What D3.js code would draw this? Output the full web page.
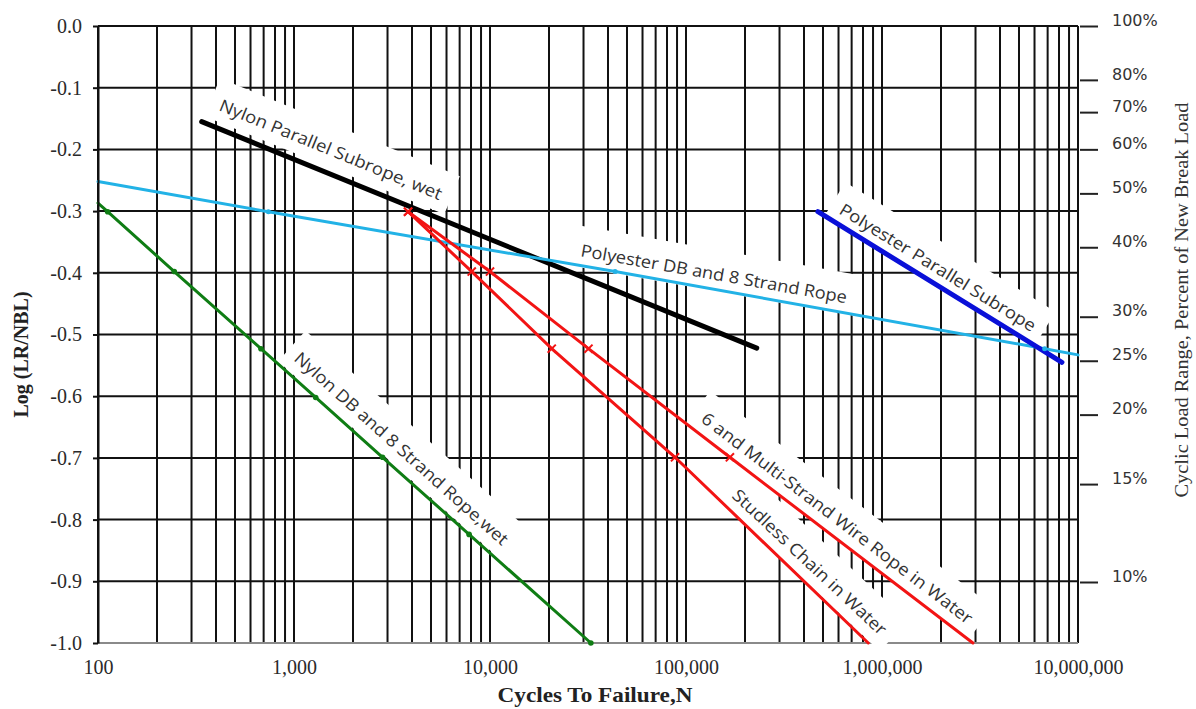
<!DOCTYPE html>
<html>
<head>
<meta charset="utf-8">
<script src="https://cdn.jsdelivr.net/npm/d3@7"></script>
<style>
  html, body { margin: 0; padding: 0; background: #fff; }
  #chart { width: 1196px; height: 709px; }
</style>
</head>
<body>
<div id="chart"></div>
<script>
// axis values
const yTicks = [0, -0.1, -0.2, -0.3, -0.4, -0.5, -0.6, -0.7, -0.8, -0.9, -1.0];
const decades = [100, 1000, 10000, 100000, 1000000, 10000000];
const xTickLabels = ['100', '1,000', '10,000', '100,000', '1,000,000', '10,000,000'];
const pctTicks = [1, 0.8, 0.7, 0.6, 0.5, 0.4, 0.3, 0.25, 0.2, 0.15, 0.1];
const pctLabels = ['100%', '80%', '70%', '60%', '50%', '40%', '30%', '25%', '20%', '15%', '10%'];

// series: cycles N and log(LR/NBL)
const nylonParallelN = [338, 229600];
const nylonParallelLog = [-0.155, -0.522];
const polyDbN = [100, 740, 43500, 6760000, 10000000];
const polyDbLog = [-0.252, -0.301, -0.398, -0.523, -0.533];
const polyParallelN = [471000, 8280000];
const polyParallelLog = [-0.301, -0.545];
const nylonDbN = [100, 112, 245, 678, 1290, 2830, 7820, 32700];
const nylonDbLog = [-0.287, -0.301, -0.398, -0.523, -0.602, -0.699, -0.824, -1.0];
const wireN = [3820, 10000, 31800, 167500, 2910000];
const wireLog = [-0.301, -0.398, -0.523, -0.699, -1.0];
const chainN = [3820, 8070, 20650, 87900, 851000];
const chainLog = [-0.301, -0.398, -0.523, -0.699, -1.0];

const zip = (a, b) => a.map((v, i) => [v, b[i]]);

const series = [
  { key: 'nylonPar', pts: zip(nylonParallelN, nylonParallelLog), color: '#000000', width: 5, marker: null },
  { key: 'polyDb', pts: zip(polyDbN, polyDbLog), color: '#22b2e6', width: 3, marker: 'tick' },
  { key: 'polyPar', pts: zip(polyParallelN, polyParallelLog), color: '#0a10d8', width: 5, marker: null },
  { key: 'nylonDb', pts: zip(nylonDbN, nylonDbLog), color: '#0f7d14', width: 3, marker: 'dot' },
  { key: 'wire', pts: zip(wireN, wireLog), color: '#f21414', width: 3, marker: 'x' },
  { key: 'chain', pts: zip(chainN, chainLog), color: '#f21414', width: 3, marker: 'x' }
];

// curve labels: start of text baseline in data space
const curveLabels = [
  { text: 'Nylon Parallel Subrope, wet', n: 409, v: -0.136, len: 239, along: 'nylonPar' },
  { text: 'Polyester DB and 8 Strand Rope', n: 28800, v: -0.373, len: 270, along: 'polyDb' },
  { text: 'Polyester Parallel Subrope', n: 597000, v: -0.303, len: 227, along: 'polyPar' },
  { text: 'Nylon DB and 8 Strand Rope,wet', n: 988, v: -0.541, len: 280, along: 'nylonDb' },
  { text: '6 and Multi-Strand Wire Rope in Water', n: 117800, v: -0.640, len: 336, along: 'wire' },
  { text: 'Studless Chain in Water', n: 169900, v: -0.763, len: 204, along: 'chain' }
];

const W = 1196, H = 709;
const x = d3.scaleLog().domain([100, 1e7]).range([98, 1078]);
const y = d3.scaleLinear().domain([0, -1]).range([26, 643]);
const yPct = d3.scaleLog().domain([1, 0.1]).range([26, 582]);

const svg = d3.select('#chart').append('svg')
  .attr('width', W)
  .attr('height', H)
  .style('background', '#fff');

// grid
const grid = svg.append('g');
grid.selectAll('line.v')
  .data(x.ticks())
  .enter()
  .append('line')
  .attr('x1', d => x(d)).attr('x2', d => x(d))
  .attr('y1', y(0)).attr('y2', y(-1))
  .attr('stroke', '#111')
  .attr('stroke-width', 2);

grid.selectAll('line.h')
  .data(yTicks)
  .enter()
  .append('line')
  .attr('x1', x(100)).attr('x2', x(1e7))
  .attr('y1', d => y(d)).attr('y2', d => y(d))
  .attr('stroke', d => d === -1 ? '#8a8a8a' : '#111')
  .attr('stroke-width', 2);

// white boxes behind curve labels (they cut the grid)
const angleOf = key => {
  const p = series.find(s => s.key === key).pts;
  const a = p[0], b = p[p.length - 1];
  return Math.atan2(y(b[1]) - y(a[1]), x(b[0]) - x(a[0])) * 180 / Math.PI;
};
const fs = 17;

svg.append('g').selectAll('rect')
  .data(curveLabels)
  .enter()
  .append('rect')
  .attr('transform', d => `translate(${x(d.n)},${y(d.v)}) rotate(${angleOf(d.along)})`)
  .attr('x', -10)
  .attr('y', -fs - 13)
  .attr('width', d => d.len + 20)
  .attr('height', fs + 24)
  .attr('fill', '#fff');

// lines
const line = d3.line().x(d => x(d[0])).y(d => y(d[1]));

svg.append('g').selectAll('path')
  .data(series)
  .enter()
  .append('path')
  .attr('d', d => line(d.pts))
  .attr('fill', 'none')
  .attr('stroke', d => d.color)
  .attr('stroke-width', d => d.width)
  .attr('stroke-linecap', 'round');

// markers
series.filter(s => s.marker).forEach(s => {
  const g = svg.append('g');
  if (s.marker === 'x') {
    g.selectAll('path')
      .data(s.pts.slice(0, -1))
      .enter()
      .append('path')
      .attr('transform', d => `translate(${x(d[0])},${y(d[1])})`)
      .attr('d', d3.symbol().type(d3.symbolX).size(45))
      .attr('fill', 'none')
      .attr('stroke', s.color)
      .attr('stroke-width', 2);
  } else if (s.marker === 'dot') {
    g.selectAll('circle')
      .data(s.pts.slice(1))
      .enter()
      .append('circle')
      .attr('cx', d => x(d[0]))
      .attr('cy', d => y(d[1]))
      .attr('r', 2.8)
      .attr('fill', s.color);
  } else {
    g.selectAll('circle')
      .data(s.pts.slice(1, -1))
      .enter()
      .append('circle')
      .attr('cx', d => x(d[0]))
      .attr('cy', d => y(d[1]))
      .attr('r', 2.5)
      .attr('fill', s.color);
  }
});

// curve label text
svg.append('g').selectAll('text')
  .data(curveLabels)
  .enter()
  .append('text')
  .attr('transform', d => `translate(${x(d.n)},${y(d.v)}) rotate(${angleOf(d.along)})`)
  .attr('textLength', d => d.len)
  .attr('lengthAdjust', 'spacingAndGlyphs')
  .style('font-family', '"Open Sans", "Noto Sans", sans-serif')
  .style('font-size', fs + 'px')
  .style('fill', '#333')
  .text(d => d.text);

// left axis
const yAxis = svg.append('g')
  .attr('transform', `translate(${x(100)},0)`)
  .call(d3.axisLeft(y).tickValues(yTicks).tickFormat(d => d.toFixed(1)).tickSize(5).tickSizeOuter(0).tickPadding(11));
yAxis.select('.domain').attr('stroke', '#111').attr('stroke-width', 2);
yAxis.selectAll('line').attr('stroke', '#111').attr('stroke-width', 2);
yAxis.selectAll('text')
  .style('font-family', '"Liberation Serif", "Times New Roman", serif')
  .style('font-size', '20px')
  .style('fill', '#2a2a2a');

// bottom axis
const xAxis = svg.append('g')
  .attr('transform', `translate(0,${y(-1)})`)
  .call(d3.axisBottom(x).tickValues(decades).tickFormat((d, i) => xTickLabels[i]).tickSize(0).tickPadding(17));
xAxis.select('.domain').remove();
xAxis.selectAll('text')
  .style('font-family', '"Liberation Serif", "Times New Roman", serif')
  .style('font-size', '20px')
  .style('fill', '#2a2a2a');

// right axis (percent of break load)
const rAxis = svg.append('g')
  .attr('transform', `translate(${x(1e7) + 2},0)`)
  .call(d3.axisRight(yPct).tickValues(pctTicks).tickFormat((d, i) => pctLabels[i]).tickSize(18).tickPadding(14).tickSizeOuter(0));
rAxis.select('.domain').remove();
rAxis.selectAll('line').attr('stroke', '#222').attr('stroke-width', 2);
rAxis.selectAll('text')
  .attr('dy', '-0.05em')
  .style('font-family', '"DejaVu Sans", Verdana, sans-serif')
  .style('font-size', '16px')
  .style('fill', '#333');

// axis titles
svg.append('text')
  .attr('transform', `translate(28,${(y(0) + y(-1)) / 2 + 20}) rotate(-90)`)
  .attr('text-anchor', 'middle')
  .style('font-family', '"Liberation Serif", "Times New Roman", serif')
  .style('font-size', '20px')
  .style('font-weight', 'bold')
  .style('fill', '#222')
  .text('Log (LR/NBL)');

svg.append('text')
  .attr('x', 595)
  .attr('y', 702)
  .attr('text-anchor', 'middle')
  .attr('textLength', 195)
  .attr('lengthAdjust', 'spacingAndGlyphs')
  .style('font-family', '"Liberation Serif", "Times New Roman", serif')
  .style('font-size', '21px')
  .style('font-weight', 'bold')
  .style('fill', '#222')
  .text('Cycles To Failure,N');

svg.append('text')
  .attr('transform', `translate(1188,300) rotate(-90)`)
  .attr('text-anchor', 'middle')
  .attr('textLength', 395)
  .attr('lengthAdjust', 'spacingAndGlyphs')
  .style('font-family', '"Liberation Serif", "Times New Roman", serif')
  .style('font-size', '19px')
  .style('fill', '#333')
  .text('Cyclic Load Range, Percent of New Break Load');
</script>
</body>
</html>
